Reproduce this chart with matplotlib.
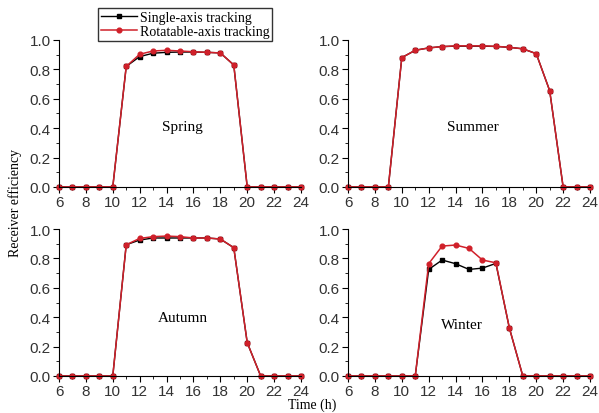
import matplotlib
matplotlib.use("Agg")
import matplotlib.pyplot as plt
from matplotlib.ticker import MultipleLocator

# hours of the day
hours = list(range(6, 25))

# receiver efficiency, single-axis tracking
spring_single = [0, 0, 0, 0, 0, 0.82, 0.887, 0.91, 0.916, 0.918, 0.918, 0.916, 0.912, 0.83, 0, 0, 0, 0, 0]
summer_single = [0, 0, 0, 0, 0.88, 0.93, 0.946, 0.955, 0.958, 0.958, 0.958, 0.956, 0.95, 0.94, 0.907, 0.655, 0, 0, 0]
autumn_single = [0, 0, 0, 0, 0, 0.893, 0.925, 0.939, 0.939, 0.939, 0.939, 0.939, 0.932, 0.873, 0.227, 0, 0, 0, 0]
winter_single = [0, 0, 0, 0, 0, 0, 0.725, 0.789, 0.764, 0.725, 0.734, 0.766, 0.327, 0, 0, 0, 0, 0, 0]

# receiver efficiency, rotatable-axis tracking
spring_rot = [0, 0, 0, 0, 0, 0.82, 0.903, 0.925, 0.93, 0.925, 0.92, 0.916, 0.912, 0.83, 0, 0, 0, 0, 0]
summer_rot = [0, 0, 0, 0, 0.88, 0.93, 0.946, 0.955, 0.96, 0.96, 0.96, 0.957, 0.95, 0.94, 0.907, 0.655, 0, 0, 0]
autumn_rot = [0, 0, 0, 0, 0, 0.893, 0.936, 0.948, 0.952, 0.948, 0.939, 0.939, 0.932, 0.873, 0.227, 0, 0, 0, 0]
winter_rot = [0, 0, 0, 0, 0, 0, 0.764, 0.884, 0.891, 0.868, 0.789, 0.77, 0.327, 0, 0, 0, 0, 0, 0]

seasons = ['Spring', 'Summer', 'Autumn', 'Winter']
single = [spring_single, summer_single, autumn_single, winter_single]
rot = [spring_rot, summer_rot, autumn_rot, winter_rot]
label_pos = [(15.2, 0.41), (15.3, 0.41), (15.2, 0.40), (14.5, 0.35)]

red = '#d0202a'
tickcol = '#333333'
serif = ['Liberation Serif', 'DejaVu Serif']
plt.rcParams['font.family'] = ['Liberation Sans', 'DejaVu Sans']

fig = plt.figure(figsize=(5.99, 4.14), dpi=100)
# axes boxes (left, bottom, width, height)
boxes = [(0.0985, 0.546, 0.404, 0.355), (0.581, 0.546, 0.404, 0.355),
         (0.0985, 0.0894, 0.404, 0.355), (0.581, 0.0894, 0.404, 0.355)]

handles = None
for i in range(4):
    ax = fig.add_axes(boxes[i])
    l1, = ax.plot(hours, single[i], color='black', marker='s', ms=3, lw=1, clip_on=False)
    l2, = ax.plot(hours, rot[i], color=red, marker='o', ms=3.4, lw=1.1, clip_on=False)
    if handles is None:
        handles = [l1, l2]
    ax.set_xlim(6, 24)
    ax.set_ylim(0, 1.0)
    ax.xaxis.set_major_locator(MultipleLocator(2))
    ax.xaxis.set_minor_locator(MultipleLocator(1))
    ax.yaxis.set_major_locator(MultipleLocator(0.2))
    ax.yaxis.set_minor_locator(MultipleLocator(0.1))
    ax.yaxis.set_major_formatter(plt.FormatStrFormatter('%.1f'))
    ax.spines['top'].set_visible(False)
    ax.spines['right'].set_visible(False)
    ax.tick_params(axis='both', which='major', length=4, labelsize=11, colors='black',
                   labelcolor=tickcol, pad=2)
    ax.tick_params(axis='both', which='minor', length=2)
    ax.text(label_pos[i][0], label_pos[i][1], seasons[i], ha='center', va='center',
            fontsize=11, family=serif)

fig.legend(handles, ['Single-axis tracking', 'Rotatable-axis tracking'],
           loc='upper left', bbox_to_anchor=(0.164, 0.978), prop={'family': serif, 'size': 10},
           frameon=True, fancybox=False, edgecolor='black', borderpad=0.2,
           labelspacing=0.1, handlelength=2.6, handletextpad=0.2, borderaxespad=0)
fig.text(0.025, 0.51, 'Receiver efficiency', rotation=90, ha='center', va='center',
         fontsize=10, family=serif)
fig.text(0.522, 0.022, 'Time (h)', ha='center', va='center', fontsize=10, family=serif)

fig.savefig('out.png', dpi=100)
